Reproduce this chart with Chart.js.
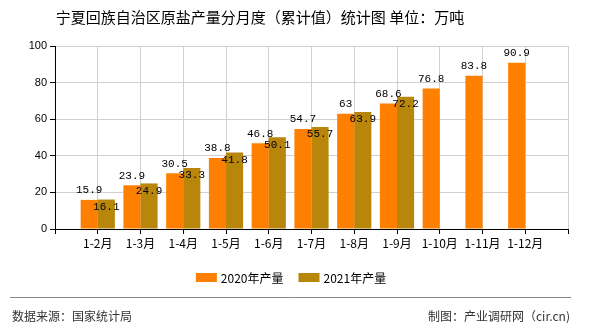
<!DOCTYPE html>
<html>
<head>
<meta charset="utf-8">
<script src="https://cdn.jsdelivr.net/npm/chart.js@4/dist/chart.umd.min.js"></script>
<style>
  html, body { margin: 0; padding: 0; background: #fff; }
  #wrap { width: 590px; height: 330px; position: relative; }
</style>
</head>
<body>
<div id="wrap"><canvas id="saltChart" width="590" height="330"></canvas></div>
<script>
const months = ["1-2月", "1-3月", "1-4月", "1-5月", "1-6月", "1-7月", "1-8月", "1-9月", "1-10月", "1-11月", "1-12月"];
const output2020 = [15.9, 23.9, 30.5, 38.8, 46.8, 54.7, 63, 68.6, 76.8, 83.8, 90.9];
const output2021 = [16.1, 24.9, 33.3, 41.8, 50.1, 55.7, 63.9, 72.2, null, null, null];
const yTicks = [0, 20, 40, 60, 80, 100];

const color2020 = "#FF8000";
const color2021 = "#B8860B";
const titleText = "宁夏回族自治区原盐产量分月度（累计值）统计图 单位：万吨";
const cjkFont = '"Noto Sans CJK SC", "Noto Sans", sans-serif';

// empty slot at each end so the category gridlines fall on the labels
const pad = (arr) => [null, ...arr, null];

const decorPlugin = {
  id: "decor",
  afterDatasetsDraw(chart) {
    const ctx = chart.ctx;
    ctx.save();
    ctx.font = "11px 'Liberation Mono', monospace";
    ctx.fillStyle = "#000";
    ctx.textAlign = "center";
    chart.data.datasets.forEach((ds, i) => {
      const meta = chart.getDatasetMeta(i);
      meta.data.forEach((bar, j) => {
        const v = ds.data[j];
        if (v == null) return;
        if (i === 0) {
          ctx.textBaseline = "bottom";
          ctx.fillText(String(v), bar.x, bar.y - 4);
        } else {
          ctx.textBaseline = "top";
          ctx.fillText(String(v), bar.x, bar.y + 2);
        }
      });
    });
    ctx.restore();
  },
  afterDraw(chart) {
    const ctx = chart.ctx;
    ctx.save();
    // title
    ctx.fillStyle = "#000";
    ctx.font = "15px " + cjkFont;
    ctx.textAlign = "center";
    ctx.textBaseline = "middle";
    ctx.fillText(titleText, 260, 17);

    // legend
    ctx.font = "12px " + cjkFont;
    ctx.textAlign = "left";
    const items = chart.data.datasets.map(ds => ({ label: ds.label, color: ds.backgroundColor }));
    const boxW = 21, boxH = 9, gapText = 4, gapItem = 15;
    let total = 0;
    items.forEach((it, k) => {
      it.w = ctx.measureText(it.label).width;
      total += boxW + gapText + it.w + (k ? gapItem : 0);
    });
    let x = 291 - total / 2;
    items.forEach((it) => {
      ctx.fillStyle = it.color;
      ctx.fillRect(x, 273, boxW, boxH);
      ctx.fillStyle = "#000";
      ctx.fillText(it.label, x + boxW + gapText, 278);
      x += boxW + gapText + it.w + gapItem;
    });

    // footer
    ctx.strokeStyle = "#888";
    ctx.lineWidth = 1;
    ctx.beginPath();
    ctx.moveTo(10, 297.5);
    ctx.lineTo(571, 297.5);
    ctx.stroke();
    ctx.fillStyle = "#333";
    ctx.font = "12px " + cjkFont;
    ctx.textAlign = "left";
    ctx.fillText("数据来源：国家统计局", 12, 316);
    ctx.textAlign = "right";
    ctx.fillText("制图：产业调研网（cir.cn)", 570, 316);
    ctx.restore();
  }
};

const saltData = {
  labels: ["", ...months, ""],
  datasets: [
    {
      label: "2020年产量",
      data: pad(output2020),
      backgroundColor: color2020,
      categoryPercentage: 0.8,
      barPercentage: 1.0,
    },
    {
      label: "2021年产量",
      data: pad(output2021),
      backgroundColor: color2021,
      categoryPercentage: 0.8,
      barPercentage: 1.0,
    },
  ],
};

const saltConfig = {
  type: "bar",
  data: saltData,
  plugins: [decorPlugin],
  options: {
    responsive: false,
    animation: false,
    layout: { padding: { left: 10, top: 46, right: 22, bottom: 78 } },
    plugins: {
      legend: { display: false },
      title: { display: false },
      tooltip: { enabled: false },
    },
    scales: {
      x: {
        offset: false,
        grid: { offset: false, color: "#d0d0d0", tickColor: "#000", tickLength: 5 },
        border: { color: "#000" },
        ticks: {
          color: "#000",
          font: { family: cjkFont, size: 12 },
          padding: 2,
          maxRotation: 0,
          autoSkip: false,
        },
        afterFit: (s) => { s.height = 23; },
      },
      y: {
        min: 0,
        max: 100,
        afterBuildTicks: (s) => { s.ticks = yTicks.map(v => ({ value: v })); },
        grid: { color: "#d0d0d0", tickColor: "#000", tickLength: 5 },
        border: { color: "#000" },
        ticks: {
          color: "#000",
          font: { family: "'Liberation Sans', sans-serif", size: 11 },
          padding: 3,
        },
        afterFit: (s) => { s.width = 45; },
      },
    },
  },
};

const saltChart = new Chart(document.getElementById("saltChart"), saltConfig);
</script>
</body>
</html>
